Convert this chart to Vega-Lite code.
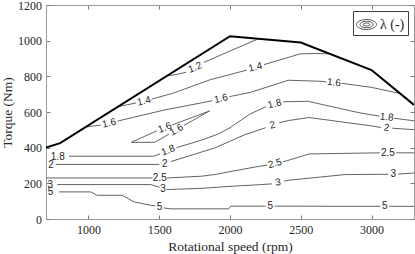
{
  "$schema": "https://vega.github.io/schema/vega-lite/v6.json",
  "width": 368,
  "height": 214,
  "autosize": "none",
  "padding": {"left": 46, "top": 5, "right": 1, "bottom": 35},
  "background": "white",
  "config": {
    "view": {"stroke": null},
    "axis": {
      "grid": false,
      "domainColor": "#9a9a9a",
      "tickColor": "#7a7a7a",
      "tickSize": -4,
      "labelFont": "Liberation Serif",
      "labelFontSize": 12,
      "labelColor": "#262626",
      "titleFont": "Liberation Serif",
      "titleFontSize": 13.5,
      "titleFontWeight": "normal",
      "titleColor": "#262626"
    }
  },
  "datasets": {
    "envelope": [
      {"rpm": 700, "torque": 400}, {"rpm": 800, "torque": 425}, {"rpm": 2000, "torque": 1025},
      {"rpm": 2500, "torque": 990}, {"rpm": 3000, "torque": 835}, {"rpm": 3300, "torque": 640}
    ],
    "contours": [
      {"level": "1.2", "seg": "1.2a", "rpm": 1560, "torque": 803},
      {"level": "1.2", "seg": "1.2a", "rpm": 1620, "torque": 810},
      {"level": "1.2", "seg": "1.2a", "rpm": 1690, "torque": 823},
      {"level": "1.2", "seg": "1.2b", "rpm": 1815, "torque": 878},
      {"level": "1.2", "seg": "1.2b", "rpm": 2000, "torque": 942},
      {"level": "1.2", "seg": "1.2b", "rpm": 2200, "torque": 1010},
      {"level": "1.4", "seg": "1.4a", "rpm": 1216, "torque": 631},
      {"level": "1.4", "seg": "1.4a", "rpm": 1338, "torque": 651},
      {"level": "1.4", "seg": "1.4b", "rpm": 1446, "torque": 672},
      {"level": "1.4", "seg": "1.4b", "rpm": 1600, "torque": 706},
      {"level": "1.4", "seg": "1.4b", "rpm": 1860, "torque": 781},
      {"level": "1.4", "seg": "1.4b", "rpm": 2000, "torque": 810},
      {"level": "1.4", "seg": "1.4b", "rpm": 2118, "torque": 835},
      {"level": "1.4", "seg": "1.4c", "rpm": 2240, "torque": 866},
      {"level": "1.4", "seg": "1.4c", "rpm": 2400, "torque": 903},
      {"level": "1.4", "seg": "1.4c", "rpm": 2495, "torque": 926},
      {"level": "1.4", "seg": "1.4c", "rpm": 2600, "torque": 928},
      {"level": "1.4", "seg": "1.4c", "rpm": 2710, "torque": 926},
      {"level": "1.6", "seg": "1.6a", "rpm": 983, "torque": 516},
      {"level": "1.6", "seg": "1.6a", "rpm": 1088, "torque": 527},
      {"level": "1.6", "seg": "1.6b", "rpm": 1205, "torque": 549},
      {"level": "1.6", "seg": "1.6b", "rpm": 1540, "torque": 612},
      {"level": "1.6", "seg": "1.6b", "rpm": 1876, "torque": 663},
      {"level": "1.6", "seg": "1.6c", "rpm": 1995, "torque": 686},
      {"level": "1.6", "seg": "1.6c", "rpm": 2144, "torque": 710},
      {"level": "1.6", "seg": "1.6c", "rpm": 2412, "torque": 778},
      {"level": "1.6", "seg": "1.6c", "rpm": 2650, "torque": 772},
      {"level": "1.6", "seg": "1.6c", "rpm": 2682, "torque": 768},
      {"level": "1.6", "seg": "1.6d", "rpm": 2788, "torque": 761},
      {"level": "1.6", "seg": "1.6d", "rpm": 3000, "torque": 738},
      {"level": "1.6", "seg": "1.6d", "rpm": 3200, "torque": 704},
      {"level": "1.6", "seg": "1.6L1", "rpm": 1484, "torque": 495},
      {"level": "1.6", "seg": "1.6L1", "rpm": 1303, "torque": 430},
      {"level": "1.6", "seg": "1.6L1", "rpm": 1468, "torque": 430},
      {"level": "1.6", "seg": "1.6L1", "rpm": 1569, "torque": 476},
      {"level": "1.6", "seg": "1.6L2", "rpm": 1675, "torque": 525},
      {"level": "1.6", "seg": "1.6L2", "rpm": 1856, "torque": 606},
      {"level": "1.6", "seg": "1.6L2", "rpm": 1590, "torque": 527},
      {"level": "1.8", "seg": "1.8a", "rpm": 862, "torque": 352},
      {"level": "1.8", "seg": "1.8a", "rpm": 1460, "torque": 352},
      {"level": "1.8", "seg": "1.8a", "rpm": 1505, "torque": 365},
      {"level": "1.8", "seg": "1.8b", "rpm": 1622, "torque": 400},
      {"level": "1.8", "seg": "1.8b", "rpm": 1790, "torque": 440},
      {"level": "1.8", "seg": "1.8b", "rpm": 1915, "torque": 476},
      {"level": "1.8", "seg": "1.8b", "rpm": 2000, "torque": 512},
      {"level": "1.8", "seg": "1.8b", "rpm": 2140, "torque": 588},
      {"level": "1.8", "seg": "1.8b", "rpm": 2255, "torque": 630},
      {"level": "1.8", "seg": "1.8c", "rpm": 2375, "torque": 657},
      {"level": "1.8", "seg": "1.8c", "rpm": 2550, "torque": 660},
      {"level": "1.8", "seg": "1.8c", "rpm": 2918, "torque": 595},
      {"level": "1.8", "seg": "1.8c", "rpm": 3055, "torque": 577},
      {"level": "1.8", "seg": "1.8d", "rpm": 3158, "torque": 565},
      {"level": "1.8", "seg": "1.8d", "rpm": 3300, "torque": 551},
      {"level": "2", "seg": "2a", "rpm": 768, "torque": 306},
      {"level": "2", "seg": "2a", "rpm": 1500, "torque": 306},
      {"level": "2", "seg": "2b", "rpm": 1582, "torque": 322},
      {"level": "2", "seg": "2b", "rpm": 1894, "torque": 399},
      {"level": "2", "seg": "2b", "rpm": 2106, "torque": 473},
      {"level": "2", "seg": "2b", "rpm": 2252, "torque": 512},
      {"level": "2", "seg": "2c", "rpm": 2348, "torque": 540},
      {"level": "2", "seg": "2c", "rpm": 2413, "torque": 552},
      {"level": "2", "seg": "2c", "rpm": 2560, "torque": 569},
      {"level": "2", "seg": "2c", "rpm": 3000, "torque": 522},
      {"level": "2", "seg": "2c", "rpm": 3066, "torque": 513},
      {"level": "2", "seg": "2d", "rpm": 3147, "torque": 509},
      {"level": "2", "seg": "2d", "rpm": 3300, "torque": 501},
      {"level": "2.5", "seg": "2.5a", "rpm": 700, "torque": 230},
      {"level": "2.5", "seg": "2.5a", "rpm": 1452, "torque": 230},
      {"level": "2.5", "seg": "2.5b", "rpm": 1556, "torque": 230},
      {"level": "2.5", "seg": "2.5b", "rpm": 1800, "torque": 240},
      {"level": "2.5", "seg": "2.5b", "rpm": 1900, "torque": 250},
      {"level": "2.5", "seg": "2.5b", "rpm": 2000, "torque": 266},
      {"level": "2.5", "seg": "2.5b", "rpm": 2210, "torque": 296},
      {"level": "2.5", "seg": "2.5b", "rpm": 2262, "torque": 302},
      {"level": "2.5", "seg": "2.5c", "rpm": 2374, "torque": 322},
      {"level": "2.5", "seg": "2.5c", "rpm": 2400, "torque": 326},
      {"level": "2.5", "seg": "2.5c", "rpm": 2560, "torque": 365},
      {"level": "2.5", "seg": "2.5c", "rpm": 3058, "torque": 371},
      {"level": "2.5", "seg": "2.5d", "rpm": 3174, "torque": 371},
      {"level": "2.5", "seg": "2.5d", "rpm": 3300, "torque": 371},
      {"level": "3", "seg": "3a", "rpm": 780, "torque": 193},
      {"level": "3", "seg": "3a", "rpm": 1440, "torque": 193},
      {"level": "3", "seg": "3a", "rpm": 1503, "torque": 178},
      {"level": "3", "seg": "3b", "rpm": 1552, "torque": 165},
      {"level": "3", "seg": "3b", "rpm": 1800, "torque": 172},
      {"level": "3", "seg": "3b", "rpm": 2000, "torque": 183},
      {"level": "3", "seg": "3b", "rpm": 2200, "torque": 192},
      {"level": "3", "seg": "3b", "rpm": 2296, "torque": 197},
      {"level": "3", "seg": "3c", "rpm": 2383, "torque": 212},
      {"level": "3", "seg": "3c", "rpm": 2410, "torque": 217},
      {"level": "3", "seg": "3c", "rpm": 2810, "torque": 249},
      {"level": "3", "seg": "3c", "rpm": 3118, "torque": 251},
      {"level": "3", "seg": "3d", "rpm": 3188, "torque": 252},
      {"level": "3", "seg": "3d", "rpm": 3300, "torque": 258},
      {"level": "5", "seg": "5a", "rpm": 792, "torque": 152},
      {"level": "5", "seg": "5a", "rpm": 1016, "torque": 152},
      {"level": "5", "seg": "5a", "rpm": 1062, "torque": 133},
      {"level": "5", "seg": "5a", "rpm": 1239, "torque": 133},
      {"level": "5", "seg": "5a", "rpm": 1322, "torque": 96},
      {"level": "5", "seg": "5a", "rpm": 1440, "torque": 77},
      {"level": "5", "seg": "5a", "rpm": 1472, "torque": 73},
      {"level": "5", "seg": "5b", "rpm": 1532, "torque": 62},
      {"level": "5", "seg": "5b", "rpm": 1580, "torque": 57},
      {"level": "5", "seg": "5b", "rpm": 1990, "torque": 57},
      {"level": "5", "seg": "5b", "rpm": 2005, "torque": 72},
      {"level": "5", "seg": "5b", "rpm": 2252, "torque": 72},
      {"level": "5", "seg": "5c", "rpm": 2316, "torque": 72},
      {"level": "5", "seg": "5c", "rpm": 3062, "torque": 71},
      {"level": "5", "seg": "5d", "rpm": 3124, "torque": 71},
      {"level": "5", "seg": "5d", "rpm": 3300, "torque": 71}
    ],
    "labels_flat": [
      {"label": "1.8", "rpm": 783, "torque": 346},
      {"label": "2", "rpm": 735, "torque": 305},
      {"label": "2", "rpm": 1540, "torque": 306},
      {"label": "2.5", "rpm": 1504, "torque": 228},
      {"label": "2.5", "rpm": 3116, "torque": 369},
      {"label": "3", "rpm": 730, "torque": 193},
      {"label": "3", "rpm": 1527, "torque": 168},
      {"label": "3", "rpm": 3153, "torque": 251},
      {"label": "5", "rpm": 732, "torque": 152},
      {"label": "5", "rpm": 1502, "torque": 68},
      {"label": "5", "rpm": 2284, "torque": 71},
      {"label": "5", "rpm": 3093, "torque": 71}
    ],
    "labels_tilt8": [
      {"label": "3", "rpm": 2340, "torque": 205}
    ],
    "labels_tilt14": [
      {"label": "1.4", "rpm": 1392, "torque": 661},
      {"label": "1.4", "rpm": 2179, "torque": 851},
      {"label": "1.6", "rpm": 1146, "torque": 537},
      {"label": "1.6", "rpm": 1936, "torque": 675},
      {"label": "1.8", "rpm": 2315, "torque": 645},
      {"label": "2", "rpm": 2300, "torque": 526},
      {"label": "2.5", "rpm": 2318, "torque": 311}
    ],
    "labels_tilt22": [
      {"label": "1.2", "rpm": 1753, "torque": 849},
      {"label": "1.8", "rpm": 1563, "torque": 385},
      {"label": "1.6", "rpm": 1539, "torque": 512}
    ],
    "labels_tilt30": [
      {"label": "1.6", "rpm": 1622, "torque": 500}
    ],
    "labels_down": [
      {"label": "1.6", "rpm": 2735, "torque": 765},
      {"label": "1.8", "rpm": 3107, "torque": 571},
      {"label": "2", "rpm": 3106, "torque": 511}
    ]
  },
  "layer": [
    {
      "data": {"name": "contours"},
      "mark": {"type": "line", "strokeWidth": 0.9, "clip": true},
      "encoding": {
        "x": {"field": "rpm", "type": "quantitative", "scale": {"domain": [700, 3300], "nice": false, "zero": false},
              "axis": {"orient": "bottom", "title": "Rotational speed (rpm)", "values": [1000, 1500, 2000, 2500, 3000], "format": "d",
                       "labelPadding": 9.5, "titleBaseline": "alphabetic", "titleY": 31}},
        "y": {"field": "torque", "type": "quantitative", "scale": {"domain": [0, 1200], "nice": false, "zero": false},
              "axis": {"orient": "left", "title": "Torque (Nm)", "values": [0, 200, 400, 600, 800, 1000, 1200], "format": "d",
                       "labelPadding": 8.5, "titleBaseline": "alphabetic", "titleX": -35, "titleY": 107}},
        "detail": {"field": "seg"},
        "order": {"value": null},
        "stroke": {"datum": "λ (-)", "scale": {"range": ["#505050"]},
                   "legend": {"title": null, "orient": "top-right", "offset": 6, "padding": 3,
                              "symbolType": "M -1 0 A 1 0.5 0 1 0 1 0 A 1 0.5 0 1 0 -1 0 M -0.66 0 A 0.66 0.32 0 1 0 0.66 0 A 0.66 0.32 0 1 0 -0.66 0 M -0.33 0 A 0.33 0.15 0 1 0 0.33 0 A 0.33 0.15 0 1 0 -0.33 0",
                              "symbolSize": 400, "symbolStrokeWidth": 1, "symbolFillColor": "transparent",
                              "labelFont": "Liberation Serif", "labelFontSize": 14, "labelColor": "#262626", "labelOffset": 3,
                              "strokeColor": "#404040", "fillColor": "white"}}
      }
    },
    {
      "data": {"name": "envelope"},
      "mark": {"type": "line", "stroke": "black", "strokeWidth": 2, "clip": true},
      "encoding": {
        "x": {"field": "rpm", "type": "quantitative", "scale": {"domain": [700, 3300], "nice": false, "zero": false},
              "axis": {"orient": "top", "title": null, "labels": false, "values": [1000, 1500, 2000, 2500, 3000]}},
        "y": {"field": "torque", "type": "quantitative", "scale": {"domain": [0, 1200], "nice": false, "zero": false},
              "axis": {"orient": "right", "title": null, "labels": false, "values": [0, 200, 400, 600, 800, 1000, 1200]}}
      }
    },
    {
      "data": {"name": "labels_flat"},
      "mark": {"type": "text", "font": "Liberation Sans", "fontSize": 10, "fill": "#262626", "align": "center", "baseline": "middle", "angle": 0},
      "encoding": {
        "x": {"field": "rpm", "type": "quantitative", "scale": {"domain": [700, 3300], "nice": false, "zero": false}, "axis": null},
        "y": {"field": "torque", "type": "quantitative", "scale": {"domain": [0, 1200], "nice": false, "zero": false}, "axis": null},
        "text": {"field": "label"}
      }
    },
    {
      "data": {"name": "labels_tilt8"},
      "mark": {"type": "text", "font": "Liberation Sans", "fontSize": 10, "fill": "#262626", "align": "center", "baseline": "middle", "angle": -8},
      "encoding": {
        "x": {"field": "rpm", "type": "quantitative", "scale": {"domain": [700, 3300], "nice": false, "zero": false}, "axis": null},
        "y": {"field": "torque", "type": "quantitative", "scale": {"domain": [0, 1200], "nice": false, "zero": false}, "axis": null},
        "text": {"field": "label"}
      }
    },
    {
      "data": {"name": "labels_tilt14"},
      "mark": {"type": "text", "font": "Liberation Sans", "fontSize": 10, "fill": "#262626", "align": "center", "baseline": "middle", "angle": -14},
      "encoding": {
        "x": {"field": "rpm", "type": "quantitative", "scale": {"domain": [700, 3300], "nice": false, "zero": false}, "axis": null},
        "y": {"field": "torque", "type": "quantitative", "scale": {"domain": [0, 1200], "nice": false, "zero": false}, "axis": null},
        "text": {"field": "label"}
      }
    },
    {
      "data": {"name": "labels_tilt22"},
      "mark": {"type": "text", "font": "Liberation Sans", "fontSize": 10, "fill": "#262626", "align": "center", "baseline": "middle", "angle": -22},
      "encoding": {
        "x": {"field": "rpm", "type": "quantitative", "scale": {"domain": [700, 3300], "nice": false, "zero": false}, "axis": null},
        "y": {"field": "torque", "type": "quantitative", "scale": {"domain": [0, 1200], "nice": false, "zero": false}, "axis": null},
        "text": {"field": "label"}
      }
    },
    {
      "data": {"name": "labels_tilt30"},
      "mark": {"type": "text", "font": "Liberation Sans", "fontSize": 10, "fill": "#262626", "align": "center", "baseline": "middle", "angle": -30},
      "encoding": {
        "x": {"field": "rpm", "type": "quantitative", "scale": {"domain": [700, 3300], "nice": false, "zero": false}, "axis": null},
        "y": {"field": "torque", "type": "quantitative", "scale": {"domain": [0, 1200], "nice": false, "zero": false}, "axis": null},
        "text": {"field": "label"}
      }
    },
    {
      "data": {"name": "labels_down"},
      "mark": {"type": "text", "font": "Liberation Sans", "fontSize": 10, "fill": "#262626", "align": "center", "baseline": "middle", "angle": 6},
      "encoding": {
        "x": {"field": "rpm", "type": "quantitative", "scale": {"domain": [700, 3300], "nice": false, "zero": false}, "axis": null},
        "y": {"field": "torque", "type": "quantitative", "scale": {"domain": [0, 1200], "nice": false, "zero": false}, "axis": null},
        "text": {"field": "label"}
      }
    }
  ],
  "resolve": {"axis": {"x": "independent", "y": "independent"}}
}
